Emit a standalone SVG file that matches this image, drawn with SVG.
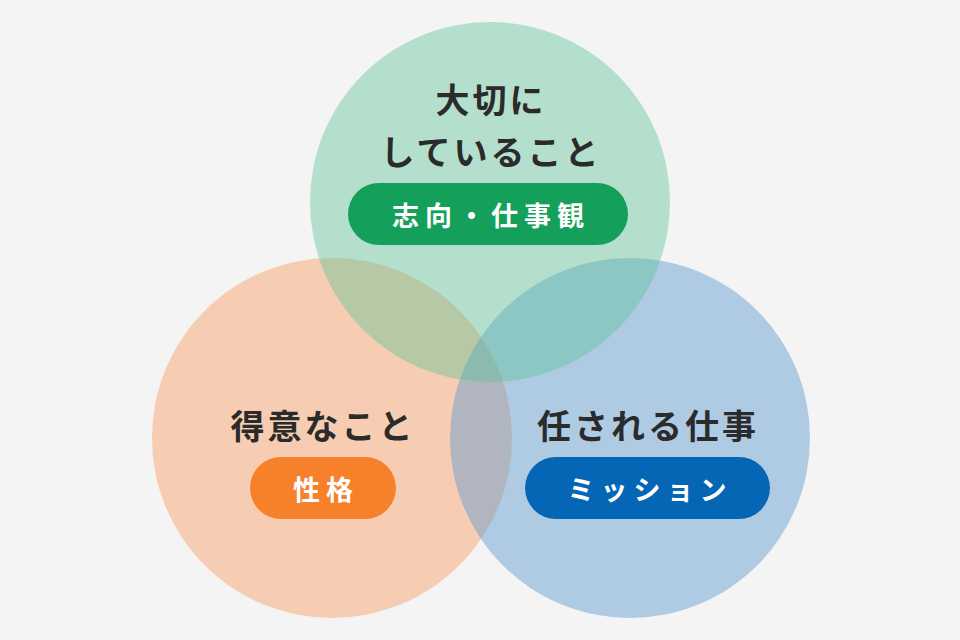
<svg xmlns="http://www.w3.org/2000/svg" width="960" height="640" viewBox="0 0 960 640">
<style>
.t{font-family:"Noto Sans CJK JP",sans-serif;font-weight:700;text-anchor:middle;dominant-baseline:central}
.h{font-size:34px;fill:#2b2b2b;letter-spacing:3px}
.p{font-size:27px;fill:#fff;letter-spacing:6px}
</style>
<rect width="960" height="640" fill="#f4f4f4"/>
<g id="circles">
<circle id="c-orange" cx="332" cy="438" r="180" fill="#f8a66f" opacity="0.5"/>
<circle id="c-blue" cx="630" cy="438" r="180" fill="#5a9ad0" opacity="0.45"/>
<circle id="c-green" cx="490" cy="202" r="180" fill="#5cc096" opacity="0.42"/>
</g>
<g id="node-green">
<text class="t h" x="491" y="98">大切に</text>
<text class="t h" x="491" y="150">していること</text>
<rect x="348" y="183" width="280" height="62" rx="31" fill="#14a05a"/>
<text class="t p" x="491" y="214">志向・仕事観</text>
</g>
<g id="node-orange">
<text class="t h" x="323" y="424">得意なこと</text>
<rect x="250" y="457" width="146" height="62" rx="31" fill="#f7802a"/>
<text class="t p" x="326" y="488">性格</text>
</g>
<g id="node-blue">
<text class="t h" x="648" y="424">任される仕事</text>
<rect x="525" y="457" width="245" height="62" rx="31" fill="#0566b5"/>
<text class="t p" x="650" y="488">ミッション</text>
</g>
<g id="connectors"/>
</svg>
